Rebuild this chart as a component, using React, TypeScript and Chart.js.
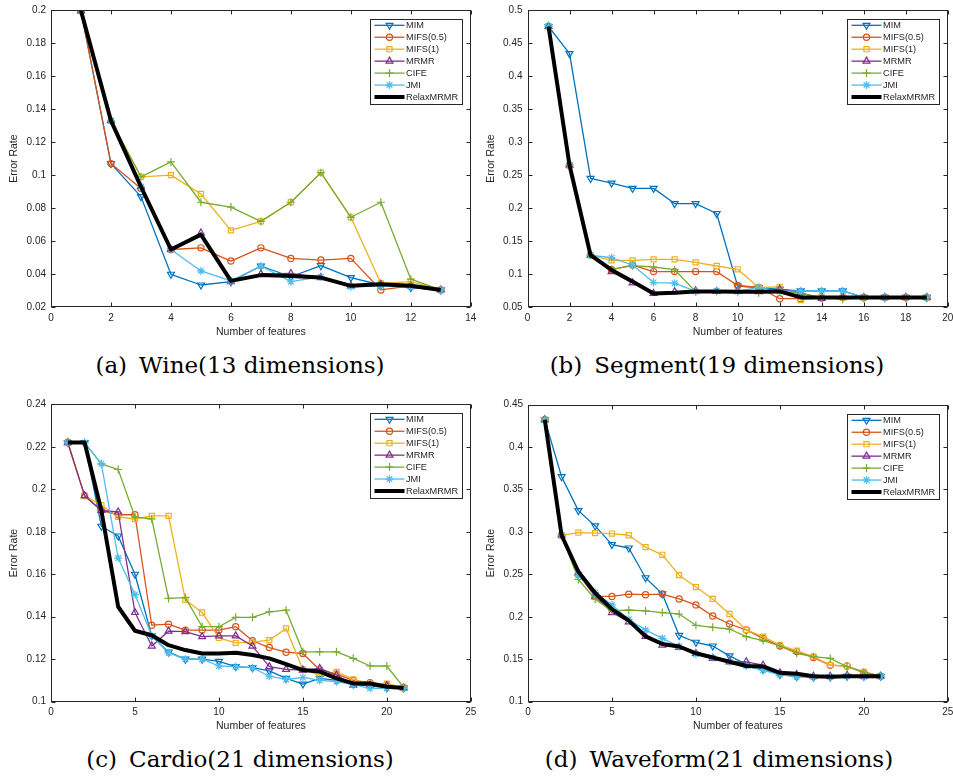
import React, { useEffect, useRef } from 'react';
import { Chart, registerables } from 'chart.js';
import { drawPoint } from 'chart.js/helpers';

Chart.register(...registerables);

// ---------------- data ----------------
const seriesNames = ['MIM', 'MIFS(0.5)', 'MIFS(1)', 'MRMR', 'CIFE', 'JMI', 'RelaxMRMR'];
const seriesColors = ['#0072BD', '#D95319', '#EDB120', '#7E2F8E', '#77AC30', '#4DBEEE', '#000000'];
const seriesMarkers: (string | false)[] = ['triangle', 'circle', 'rect', 'triangle', 'cross', 'star', false];
const seriesMarkerRotation = [180, 0, 0, 0, 0, 0, 0];
const seriesMarkerRadius = [4, 3.1, 3.6, 4, 4, 4, 0];

// (a) Wine
const wineFeatures = [1, 2, 3, 4, 5, 6, 7, 8, 9, 10, 11, 12, 13];
const wineXTicks = [0, 2, 4, 6, 8, 10, 12, 14];
const wineYTicks = [0.02, 0.04, 0.06, 0.08, 0.1, 0.12, 0.14, 0.16, 0.18, 0.2];
const wineMIM = [0.1995, 0.107, 0.087, 0.040, 0.0335, 0.0355, 0.045, 0.0385, 0.0452, 0.038, 0.0335, 0.032, 0.0305];
const wineMIFS05 = [0.1995, 0.107, 0.092, 0.055, 0.056, 0.048, 0.056, 0.0496, 0.0486, 0.0496, 0.0305, 0.033, 0.0305];
const wineMIFS1 = [0.1995, 0.133, 0.099, 0.100, 0.0886, 0.0666, 0.072, 0.0836, 0.1015, 0.0745, 0.0345, 0.0355, 0.0305];
const wineMRMR = [0.1995, 0.133, 0.093, 0.055, 0.065, 0.0355, 0.040, 0.0405, 0.038, 0.033, 0.034, 0.033, 0.0305];
const wineCIFE = [0.1995, 0.133, 0.099, 0.108, 0.0836, 0.0807, 0.072, 0.0836, 0.1015, 0.0745, 0.0836, 0.037, 0.0305];
const wineJMI = [0.1995, 0.133, 0.093, 0.055, 0.042, 0.036, 0.045, 0.0355, 0.0385, 0.0325, 0.033, 0.0325, 0.0305];
const wineRelax = [0.1995, 0.133, 0.093, 0.055, 0.064, 0.036, 0.0395, 0.039, 0.038, 0.033, 0.034, 0.033, 0.0305];

// (b) Segment
const segFeatures = [1, 2, 3, 4, 5, 6, 7, 8, 9, 10, 11, 12, 13, 14, 15, 16, 17, 18, 19];
const segXTicks = [0, 2, 4, 6, 8, 10, 12, 14, 16, 18, 20];
const segYTicks = [0.05, 0.1, 0.15, 0.2, 0.25, 0.3, 0.35, 0.4, 0.45, 0.5];
const segMIM = [0.475, 0.434, 0.245, 0.238, 0.230, 0.230, 0.207, 0.207, 0.192, 0.082, 0.080, 0.077, 0.075, 0.075, 0.075, 0.065, 0.065, 0.065, 0.065];
const segMIFS05 = [0.475, 0.265, 0.129, 0.107, 0.114, 0.104, 0.104, 0.104, 0.104, 0.083, 0.080, 0.063, 0.063, 0.064, 0.065, 0.065, 0.065, 0.065, 0.065];
const segMIFS1 = [0.475, 0.265, 0.129, 0.121, 0.121, 0.1225, 0.1225, 0.118, 0.1125, 0.1075, 0.080, 0.081, 0.061, 0.065, 0.065, 0.065, 0.065, 0.065, 0.065];
const segMRMR = [0.475, 0.265, 0.129, 0.104, 0.087, 0.071, 0.0735, 0.075, 0.074, 0.074, 0.0735, 0.0775, 0.072, 0.0635, 0.065, 0.065, 0.065, 0.065, 0.065];
const segCIFE = [0.475, 0.265, 0.129, 0.1075, 0.113, 0.111, 0.107, 0.0735, 0.074, 0.074, 0.072, 0.074, 0.071, 0.065, 0.062, 0.065, 0.065, 0.065, 0.065];
const segJMI = [0.475, 0.265, 0.129, 0.125, 0.114, 0.0875, 0.0865, 0.074, 0.075, 0.074, 0.080, 0.074, 0.075, 0.075, 0.075, 0.065, 0.065, 0.065, 0.065];
const segRelax = [0.475, 0.265, 0.129, 0.1065, 0.089, 0.071, 0.072, 0.074, 0.074, 0.0735, 0.0735, 0.074, 0.065, 0.065, 0.065, 0.065, 0.065, 0.065, 0.065];

// (c) Cardio
const cardioFeatures = [1, 2, 3, 4, 5, 6, 7, 8, 9, 10, 11, 12, 13, 14, 15, 16, 17, 18, 19, 20, 21];
const cardioXTicks = [0, 5, 10, 15, 20, 25];
const cardioYTicks = [0.1, 0.12, 0.14, 0.16, 0.18, 0.2, 0.22, 0.24];
const cardioMIM = [0.222, 0.222, 0.1826, 0.178, 0.160, 0.131, 0.1233, 0.120, 0.120, 0.119, 0.1165, 0.116, 0.1145, 0.111, 0.1083, 0.111, 0.110, 0.1083, 0.1075, 0.1065, 0.1065];
const cardioMIFS05 = [0.222, 0.197, 0.190, 0.188, 0.188, 0.136, 0.1365, 0.1337, 0.1337, 0.1337, 0.1353, 0.1287, 0.1255, 0.1233, 0.1227, 0.115, 0.113, 0.110, 0.109, 0.108, 0.1065];
const cardioMIFS1 = [0.222, 0.197, 0.1925, 0.187, 0.186, 0.1875, 0.1875, 0.148, 0.142, 0.130, 0.1277, 0.128, 0.129, 0.1345, 0.1152, 0.1125, 0.114, 0.1105, 0.1085, 0.1085, 0.1067];
const cardioMRMR = [0.222, 0.197, 0.190, 0.1893, 0.142, 0.1262, 0.1332, 0.133, 0.1306, 0.131, 0.131, 0.1262, 0.1165, 0.1152, 0.1149, 0.1157, 0.1125, 0.1078, 0.1078, 0.1075, 0.1065];
const cardioCIFE = [0.222, 0.222, 0.212, 0.2093, 0.187, 0.186, 0.1486, 0.149, 0.1353, 0.1353, 0.1397, 0.1397, 0.1423, 0.1431, 0.1235, 0.1235, 0.1235, 0.1204, 0.1168, 0.1168, 0.1067];
const cardioJMI = [0.222, 0.222, 0.212, 0.1676, 0.1505, 0.131, 0.123, 0.120, 0.120, 0.1168, 0.1165, 0.116, 0.112, 0.1105, 0.1114, 0.110, 0.1095, 0.108, 0.1063, 0.1063, 0.1063];
const cardioRelax = [0.222, 0.222, 0.190, 0.1447, 0.1334, 0.1313, 0.1266, 0.1243, 0.1227, 0.1227, 0.123, 0.122, 0.1204, 0.1177, 0.1149, 0.1142, 0.111, 0.1086, 0.1086, 0.107, 0.1065];

// (d) Waveform
const waveFeatures = [1, 2, 3, 4, 5, 6, 7, 8, 9, 10, 11, 12, 13, 14, 15, 16, 17, 18, 19, 20, 21];
const waveXTicks = [0, 5, 10, 15, 20, 25];
const waveYTicks = [0.1, 0.15, 0.2, 0.25, 0.3, 0.35, 0.4, 0.45];
const waveMIM = [0.432, 0.365, 0.325, 0.307, 0.285, 0.281, 0.246, 0.227, 0.178, 0.170, 0.1656, 0.154, 0.144, 0.138, 0.132, 0.1295, 0.129, 0.129, 0.130, 0.130, 0.130];
const waveMIFS05 = [0.432, 0.296, 0.250, 0.224, 0.224, 0.2266, 0.226, 0.2268, 0.221, 0.214, 0.201, 0.1915, 0.1845, 0.1746, 0.1656, 0.159, 0.152, 0.143, 0.142, 0.134, 0.130];
const waveMIFS1 = [0.432, 0.296, 0.299, 0.2985, 0.298, 0.296, 0.282, 0.273, 0.249, 0.235, 0.221, 0.2033, 0.1845, 0.1766, 0.1668, 0.160, 0.153, 0.143, 0.142, 0.135, 0.130];
const waveMRMR = [0.432, 0.296, 0.252, 0.224, 0.205, 0.194, 0.177, 0.1667, 0.164, 0.1568, 0.151, 0.147, 0.147, 0.143, 0.134, 0.132, 0.130, 0.130, 0.131, 0.130, 0.130];
const waveCIFE = [0.432, 0.296, 0.244, 0.2207, 0.207, 0.208, 0.207, 0.205, 0.2033, 0.190, 0.1876, 0.1856, 0.1766, 0.172, 0.1656, 0.157, 0.153, 0.151, 0.1412, 0.135, 0.130];
const waveJMI = [0.432, 0.296, 0.249, 0.2285, 0.214, 0.197, 0.1845, 0.1746, 0.165, 0.156, 0.152, 0.147, 0.142, 0.137, 0.132, 0.1295, 0.129, 0.129, 0.130, 0.1295, 0.130];
const waveRelax = [0.432, 0.296, 0.253, 0.228, 0.209, 0.1955, 0.177, 0.168, 0.165, 0.157, 0.152, 0.1471, 0.142, 0.1415, 0.134, 0.133, 0.130, 0.1295, 0.130, 0.130, 0.130];

const captionLabels = ['(a)', '(b)', '(c)', '(d)'];
const captionTexts = ['Wine(13 dimensions)', 'Segment(19 dimensions)', 'Cardio(21 dimensions)', 'Waveform(21 dimensions)'];

// ---------------- layout / style ----------------
const AXIS_COLOR = '#262626';
const SANS = '"Liberation Sans", Arial, Helvetica, sans-serif';
const CANVAS_W = 476;
const CANVAS_H = 342;
const X_AXIS_H = 31;

type Panel = {
  features: number[];
  series: number[][];
  xTicks: number[];
  yTicks: number[];
  left: number;
  top: number;
  area: { left: number; right: number; top: number; bottom: number };
  caption: { label: string; text: string; cx: number; cy: number };
};

const panels: Panel[] = [
  {
    features: wineFeatures,
    series: [wineMIM, wineMIFS05, wineMIFS1, wineMRMR, wineCIFE, wineJMI, wineRelax],
    xTicks: wineXTicks, yTicks: wineYTicks,
    left: 0, top: 0,
    area: { left: 51, right: 471.5, top: 10, bottom: 307.3 },
    caption: { label: captionLabels[0], text: captionTexts[0], cx: 240, cy: 365 },
  },
  {
    features: segFeatures,
    series: [segMIM, segMIFS05, segMIFS1, segMRMR, segCIFE, segJMI, segRelax],
    xTicks: segXTicks, yTicks: segYTicks,
    left: 477, top: 0,
    area: { left: 50.5, right: 472.5, top: 10, bottom: 307.3 },
    caption: { label: captionLabels[1], text: captionTexts[1], cx: 717, cy: 365 },
  },
  {
    features: cardioFeatures,
    series: [cardioMIM, cardioMIFS05, cardioMIFS1, cardioMRMR, cardioCIFE, cardioJMI, cardioRelax],
    xTicks: cardioXTicks, yTicks: cardioYTicks,
    left: 0, top: 394,
    area: { left: 51, right: 472.5, top: 10.3, bottom: 307.7 },
    caption: { label: captionLabels[2], text: captionTexts[2], cx: 240, cy: 759 },
  },
  {
    features: waveFeatures,
    series: [waveMIM, waveMIFS05, waveMIFS1, waveMRMR, waveCIFE, waveJMI, waveRelax],
    xTicks: waveXTicks, yTicks: waveYTicks,
    left: 477, top: 394,
    area: { left: 51, right: 472, top: 10.5, bottom: 307.7 },
    caption: { label: captionLabels[3], text: captionTexts[3], cx: 719, cy: 759 },
  },
];

const fmt = (v: number) => String(Number(v.toFixed(4)));

const boxPlugin = {
  id: 'matlabBox',
  afterDatasetsDraw(chart: any) {
    const { ctx, chartArea: a, scales } = chart;
    const L = Math.round(a.left) + 0.5;
    const R = Math.round(a.right) - 0.5;
    const T = Math.round(a.top) + 0.5;
    const B = Math.round(a.bottom) - 0.5;
    ctx.save();
    ctx.strokeStyle = AXIS_COLOR;
    ctx.lineWidth = 1;
    ctx.strokeRect(L, T, R - L, B - T);
    const tl = 4;
    ctx.beginPath();
    scales.x.ticks.forEach((t: any) => {
      const px = Math.round(scales.x.getPixelForValue(t.value)) + 0.5;
      ctx.moveTo(px, B); ctx.lineTo(px, B - tl);
      ctx.moveTo(px, T); ctx.lineTo(px, T + tl);
    });
    scales.y.ticks.forEach((t: any) => {
      const py = Math.round(scales.y.getPixelForValue(t.value)) + 0.5;
      ctx.moveTo(L, py); ctx.lineTo(L + tl, py);
      ctx.moveTo(R, py); ctx.lineTo(R - tl, py);
    });
    ctx.stroke();
    ctx.restore();
  },
};

const legendPlugin = {
  id: 'matlabLegend',
  afterDraw(chart: any) {
    const { ctx, chartArea: a } = chart;
    const fontSize = 9.2;
    ctx.save();
    ctx.font = `${fontSize}px ${SANS}`;
    const maxText = Math.max(...seriesNames.map((n) => ctx.measureText(n).width));
    const lineLen = 30;
    const padL = 4.5;
    const textGap = 1.5;
    const padR = 4.5;
    const rowH = 11.95;
    const w = padL + lineLen + textGap + maxText + padR;
    const h = rowH * seriesNames.length + 2;
    const right = Math.round(a.right) - 8;
    const left = Math.round(right - w);
    const top = Math.round(a.top) + 9;
    ctx.fillStyle = '#ffffff';
    ctx.fillRect(left, top, right - left, h);
    ctx.strokeStyle = AXIS_COLOR;
    ctx.lineWidth = 1;
    ctx.strokeRect(left + 0.5, top + 0.5, right - left - 1, Math.round(h) - 1);
    seriesNames.forEach((name, i) => {
      const cy = top + 6.3 + i * rowH;
      const x0 = left + padL;
      const color = seriesColors[i];
      const isRelax = seriesMarkers[i] === false;
      ctx.strokeStyle = color;
      ctx.lineWidth = isRelax ? 4 : 1.3;
      ctx.beginPath();
      ctx.moveTo(x0, cy);
      ctx.lineTo(x0 + lineLen, cy);
      ctx.stroke();
      if (!isRelax) {
        ctx.lineWidth = 1.2;
        ctx.fillStyle = 'rgba(0,0,0,0)';
        drawPoint(ctx, {
          pointStyle: seriesMarkers[i] as any,
          rotation: seriesMarkerRotation[i],
          radius: seriesMarkerRadius[i],
          borderWidth: 1.2,
        } as any, x0 + lineLen / 2, cy);
      }
      ctx.fillStyle = AXIS_COLOR;
      ctx.textBaseline = 'middle';
      ctx.textAlign = 'left';
      ctx.fillText(name, x0 + lineLen + textGap, cy + 0.5);
    });
    ctx.restore();
  },
};

function ChartPanel({ panel }: { panel: Panel }) {
  const ref = useRef<HTMLCanvasElement | null>(null);
  useEffect(() => {
    if (!ref.current) return;
    const p = panel;
    const datasets = seriesNames.map((name, i) => {
      const isRelax = seriesMarkers[i] === false;
      return {
        label: name,
        data: p.features.map((x, j) => ({ x, y: p.series[i][j] })),
        borderColor: seriesColors[i],
        backgroundColor: seriesColors[i],
        borderWidth: isRelax ? 4 : 1.3,
        borderJoinStyle: 'round' as const,
        pointStyle: (isRelax ? false : seriesMarkers[i]) as any,
        pointRadius: seriesMarkerRadius[i],
        pointRotation: seriesMarkerRotation[i],
        pointBorderColor: seriesColors[i],
        pointBackgroundColor: 'rgba(0,0,0,0)',
        pointBorderWidth: 1.2,
        tension: 0,
        fill: false,
        order: seriesNames.length - i,
      };
    });
    const xMin = p.xTicks[0];
    const xMax = p.xTicks[p.xTicks.length - 1];
    const yMin = p.yTicks[0];
    const yMax = p.yTicks[p.yTicks.length - 1];
    const chart = new Chart(ref.current, {
      type: 'line',
      data: { datasets },
      options: {
        animation: false,
        responsive: false,
        devicePixelRatio: 1,
        parsing: false as any,
        normalized: true,
        layout: {
          padding: {
            left: 0,
            top: p.area.top,
            right: CANVAS_W - p.area.right,
            bottom: CANVAS_H - p.area.bottom - X_AXIS_H,
          },
        },
        plugins: {
          legend: { display: false },
          tooltip: { enabled: false },
        },
        scales: {
          x: {
            type: 'linear',
            min: xMin,
            max: xMax,
            grid: { display: false, drawTicks: false },
            border: { display: false },
            afterBuildTicks: (s: any) => { s.ticks = p.xTicks.map((v) => ({ value: v })); },
            afterFit: (s: any) => {
              s.height = X_AXIS_H;
              s.paddingLeft = 0; s.paddingRight = 0; s.paddingTop = 0; s.paddingBottom = 0;
            },
            ticks: {
              autoSkip: false,
              maxRotation: 0,
              minRotation: 0,
              padding: 5,
              color: AXIS_COLOR,
              font: { size: 10, family: SANS },
              callback: (v: any) => fmt(Number(v)),
            },
            title: {
              display: true,
              text: 'Number of features',
              color: AXIS_COLOR,
              font: { size: 10.5, family: SANS },
              padding: { top: 0, bottom: 0 },
            },
          },
          y: {
            type: 'linear',
            min: yMin,
            max: yMax,
            grid: { display: false, drawTicks: false },
            border: { display: false },
            afterBuildTicks: (s: any) => { s.ticks = p.yTicks.map((v) => ({ value: v })); },
            afterFit: (s: any) => {
              s.width = p.area.left;
              s.paddingLeft = 0; s.paddingRight = 0; s.paddingTop = 0; s.paddingBottom = 0;
            },
            ticks: {
              autoSkip: false,
              padding: 5,
              color: AXIS_COLOR,
              font: { size: 10, family: SANS },
              callback: (v: any) => fmt(Number(v)),
            },
            title: {
              display: true,
              text: 'Error Rate',
              color: AXIS_COLOR,
              font: { size: 10.5, family: SANS },
              padding: { top: 8, bottom: 0 },
            },
          },
        },
      },
      plugins: [boxPlugin, legendPlugin],
    } as any);
    return () => chart.destroy();
  }, [panel]);
  return (
    <canvas
      ref={ref}
      width={CANVAS_W}
      height={CANVAS_H}
      style={{ position: 'absolute', left: panel.left, top: panel.top, width: CANVAS_W, height: CANVAS_H }}
    />
  );
}

export default function App() {
  const capSize = 23;
  return (
    <div style={{ position: 'absolute', left: 0, top: 0, width: 953, height: 777, background: '#fff', overflow: 'hidden' }}>
      {panels.map((p, i) => (
        <React.Fragment key={i}>
          <ChartPanel panel={p} />
          <div
            style={{
              position: 'absolute',
              left: p.caption.cx - 240,
              width: 480,
              top: p.caption.cy - capSize / 2,
              height: capSize,
              lineHeight: `${capSize}px`,
              fontSize: capSize,
              fontFamily: '"DejaVu Serif", "Liberation Serif", serif',
              textAlign: 'center',
              color: '#000',
              whiteSpace: 'nowrap',
            }}
          >
            <span>{p.caption.label}</span>
            <span style={{ marginLeft: 12 }}>{p.caption.text}</span>
          </div>
        </React.Fragment>
      ))}
    </div>
  );
}
